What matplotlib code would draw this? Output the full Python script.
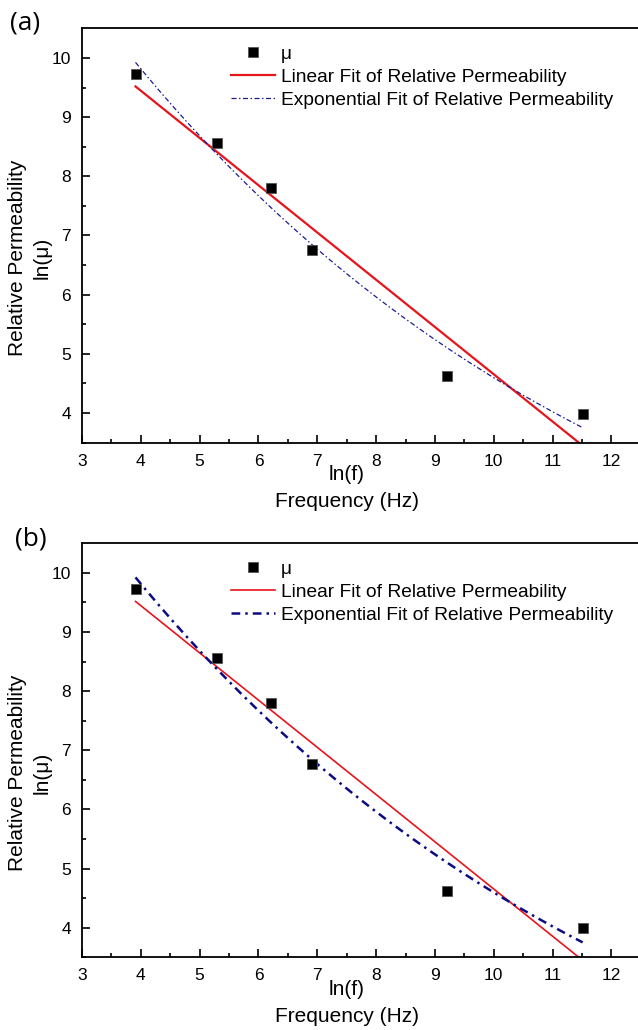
import numpy as np
import matplotlib
matplotlib.use('Agg')
import matplotlib.pyplot as plt

# ln(f) and ln(mu) values
ln_f = [3.91, 5.30, 6.21, 6.91, 9.21, 11.51]
ln_mu = [9.73, 8.56, 7.80, 6.76, 4.62, 3.99]

x_ticks = [3, 4, 5, 6, 7, 8, 9, 10, 11, 12]
y_ticks = [4, 5, 6, 7, 8, 9, 10]
panel_labels = ['(a)', '(b)']

plt.rcParams['font.family'] = ['Liberation Sans', 'DejaVu Sans']


def exp_fit(x, y):
    # y = y0 + A*exp(-x/t): scan t, solve y0 and A by least squares
    best = None
    for t in np.linspace(1, 60, 3000):
        M = np.column_stack([np.ones_like(x), np.exp(-x / t)])
        coef, res, _, _ = np.linalg.lstsq(M, y, rcond=None)
        err = np.sum((M @ coef - y) ** 2)
        if best is None or err < best[0]:
            best = (err, t, coef)
    _, t, (y0, a) = best
    return lambda v: y0 + a * np.exp(-v / t)


def fits():
    x = np.array(ln_f)
    y = np.array(ln_mu)
    lin = np.poly1d(np.polyfit(x, y, 1))
    ex = exp_fit(x, y)
    xs = np.linspace(x.min(), x.max(), 200)
    return xs, lin(xs), ex(xs)


def draw_panel(ax, red_lw, blue_lw, blue_dashes, blue_color):
    xs, y_lin, y_exp = fits()
    ax.plot(ln_f, ln_mu, 's', color='black', markersize=6.5, markeredgecolor='#555555',
            markeredgewidth=0.6, label='\u03bc', zorder=5)
    ax.plot(xs, y_lin, color='#e8141b', linewidth=red_lw, label='Linear Fit of Relative Permeability')
    ax.plot(xs, y_exp, color=blue_color, linewidth=blue_lw, dashes=blue_dashes,
            label='Exponential Fit of Relative Permeability')

    ax.set_xlim(3, 12.5)
    ax.set_ylim(3.5, 10.5)
    ax.set_xticks(x_ticks)
    ax.set_yticks(y_ticks)
    ax.set_xticks(np.arange(3.5, 12.5, 1), minor=True)
    ax.set_yticks(np.arange(3.5, 10.5, 1), minor=True)
    ax.tick_params(which='both', direction='in', width=1.2, labelsize=12.5, top=False, right=False)
    ax.tick_params(which='major', length=6, pad=8)
    ax.tick_params(which='minor', length=3)
    for s in ax.spines.values():
        s.set_linewidth(1.3)

    ax.text(0.474, -0.078, 'ln(f)', transform=ax.transAxes, ha='center', va='center', fontsize=15)
    ax.text(0.474, -0.143, 'Frequency (Hz)', transform=ax.transAxes, ha='center', va='center', fontsize=15)
    ax.text(-0.1145, 0.445, 'Relative Permeability', transform=ax.transAxes, ha='center', va='center',
            rotation=90, fontsize=15)
    ax.text(-0.0716, 0.445, 'ln(\u03bc)', transform=ax.transAxes, ha='center', va='center',
            rotation=90, fontsize=15)

    ax.legend(loc='upper left', bbox_to_anchor=(0.2666, 0.958), frameon=False, fontsize=13.8,
              numpoints=1, handlelength=2.3, handletextpad=0.3, labelspacing=0.28,
              borderpad=0, borderaxespad=0)


fig = plt.figure(figsize=(6.38, 10.3), dpi=100)
ax_a = fig.add_axes([0.1285, 0.5703, 0.876, 0.4022])
ax_b = fig.add_axes([0.1285, 0.0706, 0.876, 0.4019])

draw_panel(ax_a, 1.6, 0.9, (4, 2, 1.2, 2), '#1c1c94')
draw_panel(ax_b, 1.2, 1.8, (3.5, 2, 1, 2), '#0c0c82')

fig.text(0.04, 0.978, panel_labels[0], family=['Open Sans', 'DejaVu Sans'], fontsize=19,
         ha='center', va='center')
fig.text(0.049, 0.477, panel_labels[1], family=['Open Sans', 'DejaVu Sans'], fontsize=19,
         ha='center', va='center')

fig.savefig('out.png', dpi=100, facecolor='white')
